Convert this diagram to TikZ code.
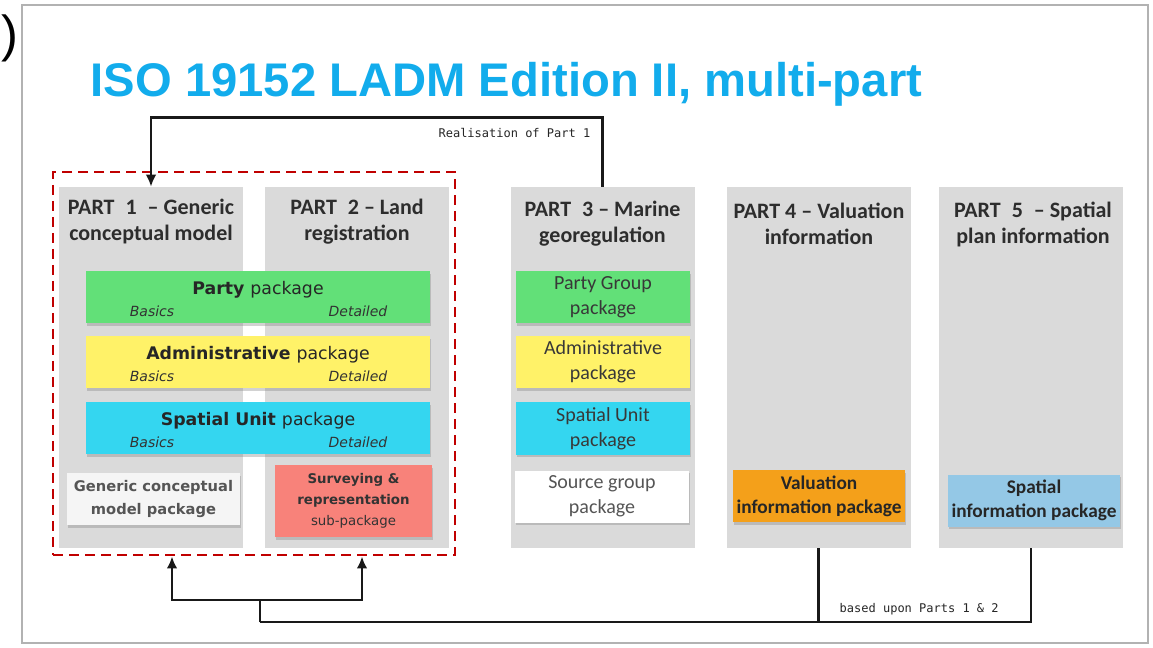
\documentclass[tikz,border=0pt]{standalone}
\usepackage{fontspec}
\setmainfont{Carlito}
\newfontfamily\pkgfont{DejaVu Sans}
\newfontfamily\labfont{DejaVu Sans Mono}
\newfontfamily\titlefont{Liberation Sans}
\usetikzlibrary{arrows.meta,shadows}

\definecolor{titleblue}{RGB}{18,172,236}
\definecolor{colgray}{RGB}{218,218,218}
\definecolor{pgreen}{RGB}{98,224,120}
\definecolor{pyellow}{RGB}{255,242,104}
\definecolor{pcyan}{RGB}{52,214,240}
\definecolor{psalmon}{RGB}{248,130,122}
\definecolor{porange}{RGB}{244,160,26}
\definecolor{plblue}{RGB}{148,200,230}
\definecolor{dashred}{RGB}{192,0,0}
\definecolor{headtxt}{RGB}{45,45,45}
\definecolor{greytxt}{RGB}{85,85,85}

\tikzset{
  partcol/.style={fill=colgray, minimum width=138pt, minimum height=270.75pt, inner sep=0pt},
  parthead/.style={align=center, text=headtxt, font=\bfseries\fontsize{16.5}{19.5}\selectfont},
  boxshadow/.style={drop shadow={shadow xshift=0.8pt, shadow yshift=-2pt, opacity=0.35}},
  widepkg/.style={boxshadow, minimum width=258pt, minimum height=39pt, inner sep=0pt},
  pkgname/.style={text=black!85, font=\pkgfont\fontsize{13}{15}\selectfont},
  pkgsub/.style={text=black!80, font=\pkgfont\itshape\fontsize{10.5}{12}\selectfont},
  smallpkg/.style={boxshadow, minimum width=130.5pt, minimum height=39pt, inner sep=0pt, align=center},
  linklabel/.style={text=black!85, font=\labfont\fontsize{9}{10}\selectfont},
  line/.style={draw=black!90, line width=2pt},
  link/.style={line, -{Latex[length=9pt,width=8pt]}}
}

\begin{document}
\begin{tikzpicture}[x=0.75pt,y=-0.75pt]
  \useasboundingbox (0,0) rectangle (1153,648);
  \fill[white] (0,0) rectangle (1153,648);
  \draw[draw=black!30, line width=1.2pt] (22,5) rectangle (1148,643);
  \node[inner sep=0pt, font=\titlefont\fontsize{38}{44}\selectfont] (paren) at (10,38) {)};

  \node[anchor=base west, text=titleblue, font=\titlefont\bfseries\fontsize{35.4}{40}\selectfont] (title) at (86,97) {ISO 19152 LADM Edition II, multi-part};

  \node[partcol] (p1) at (151,367.5) {};
  \node[partcol] (p2) at (357,367.5) {};
  \node[partcol] (p3) at (602.5,367.5) {};
  \node[partcol] (p4) at (818.5,367.5) {};
  \node[partcol] (p5) at (1031,367.5) {};

  \node[draw=dashred, line width=2.2pt, dash pattern=on 7.5pt off 4.5pt, minimum width=301.5pt, minimum height=287.25pt, inner sep=0pt] (core) at (254,363.5) {};

  \node[parthead] (h1) at (151,222) {PART\enspace 1\enspace– Generic\\conceptual model};
  \node[parthead] (h2) at (357,222) {PART\enspace 2 – Land\\registration};
  \node[parthead] (h3) at (602.5,224) {PART\enspace 3 – Marine\\georegulation};
  \node[parthead] (h4) at (819,224) {PART 4 – Valuation\\information};
  \node[parthead] (h5) at (1033,224) {PART\enspace 5\enspace– Spatial\\plan information};

  \foreach \nm/\col/\y/\lbl in {party/pgreen/297/Party, adm/pyellow/362/Administrative, su/pcyan/428/Spatial Unit} {
    \node[widepkg, fill=\col] (\nm) at (258,\y) {};
    \node[pkgname] (\nm-t) at (258,\y-7) {\bfseries \lbl\ \mdseries package};
    \node[pkgsub] (\nm-b) at (152,\y+14) {Basics};
    \node[pkgsub] (\nm-d) at (358,\y+14) {Detailed};
  }

  \node[boxshadow, fill=black!4, minimum width=129.75pt, minimum height=39pt, inner sep=0pt, align=center, text=greytxt, font=\pkgfont\bfseries\fontsize{11}{17}\selectfont] (gcm) at (153.5,499) {Generic conceptual\\model package};
  \node[boxshadow, fill=psalmon, minimum width=117.75pt, minimum height=54pt, inner sep=0pt, align=center, text=black!80, font=\pkgfont\fontsize{10}{15.75}\selectfont] (survey) at (353.5,501) {\bfseries Surveying \&\\\bfseries representation\\sub-package};

  \foreach \nm/\col/\y/\lbl in {pg/pgreen/297/Party Group, ad3/pyellow/362/Administrative, su3/pcyan/428.5/Spatial Unit} {
    \node[smallpkg, fill=\col, text=black!78, font=\fontsize{15}{19}\selectfont] (\nm) at (603,\y) {\lbl\\package};
  }
  \node[smallpkg, fill=white, text=greytxt, font=\fontsize{15}{19}\selectfont] (sg) at (602,496.5) {Source group\\package};

  \node[boxshadow, fill=porange, minimum width=129pt, minimum height=39pt, inner sep=0pt, align=center, text=black!85, font=\bfseries\fontsize{14.5}{18}\selectfont] (val) at (819,496) {Valuation\\information package};
  \node[boxshadow, fill=plblue, minimum width=129pt, minimum height=39pt, inner sep=0pt, align=center, text=black!85, font=\bfseries\fontsize{14.5}{18}\selectfont] (spi) at (1034,500.5) {Spatial\\information package};

  \draw[link] (p3.north) -- ++(0,-69) -| (p1.north);
  \node[linklabel, anchor=base east] (real) at (595,138) {Realisation of Part 1};

  \coordinate (j) at (260,622);
  \coordinate (a1) at (172,600);
  \coordinate (a2) at (362,600);
  \draw[line] (p4.south) |- (j);
  \draw[line] (p5.south) |- (p4.south |- j);
  \draw[link] (j) |- (a1) -- (a1 |- core.south);
  \draw[link] (j) |- (a2) -- (a2 |- core.south);
  \node[linklabel, anchor=base west] (based) at (835,612) {based upon Parts 1 \& 2};
\end{tikzpicture}
\end{document}
